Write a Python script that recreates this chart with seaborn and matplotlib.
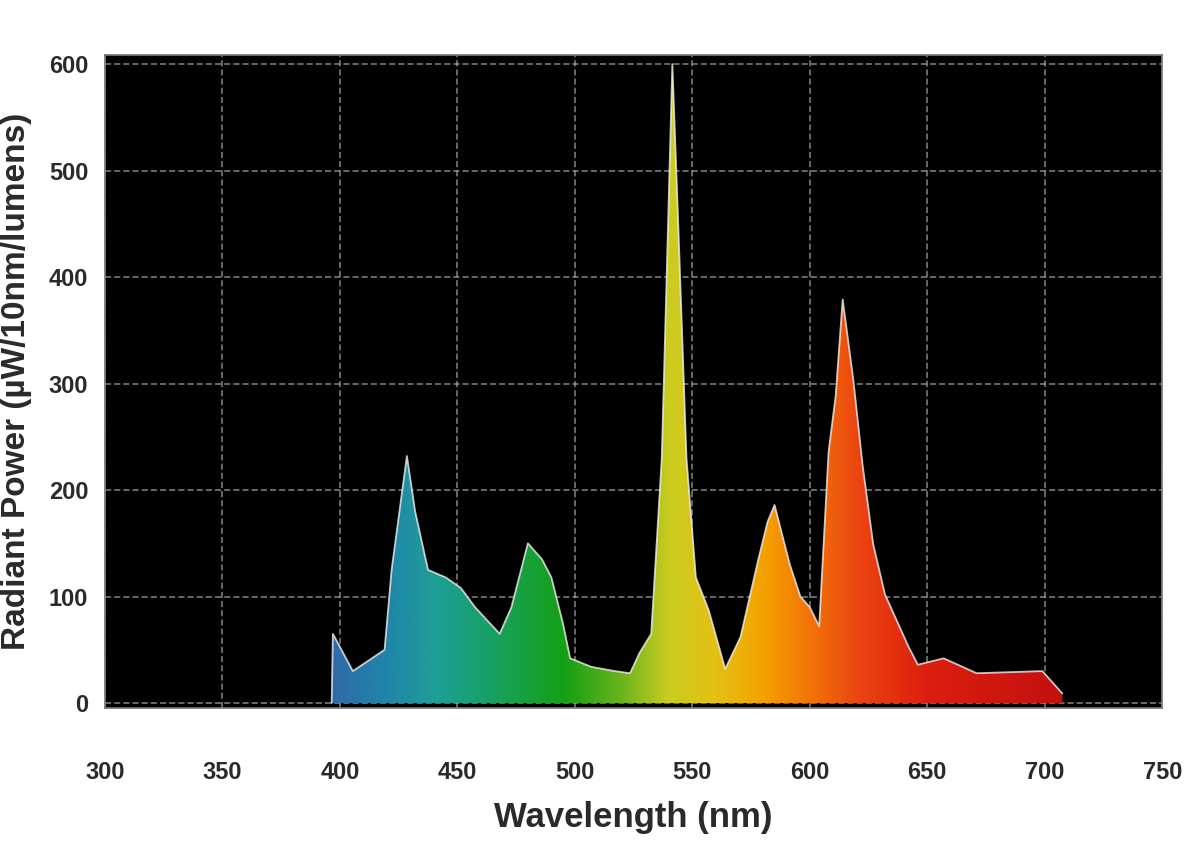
"""
Fluorescent lamp spectral power distribution, drawn as a rainbow-filled
area on a black plot panel.
"""
import numpy as np
import matplotlib
matplotlib.use("Agg")
import matplotlib.pyplot as plt
from matplotlib.colors import LinearSegmentedColormap
import seaborn as sns

# ── Data (nm, µW/10nm/lumens) ────────────────────────────────────────────────
wavelength = [396.5, 397, 405.5, 419, 422, 428.5, 432, 437.5, 445, 451.5,
              457.5, 468, 473, 480, 486, 490, 495, 498, 507, 517,
              523.5, 527.5, 532.5, 537, 541.5, 544, 547.5, 551.5, 557, 564,
              570.5, 578, 582, 585, 591.5, 596, 600, 604, 608, 611,
              614, 618.5, 622.5, 627, 632, 642, 646, 657, 671, 699,
              707.5]
power = [0, 65, 30, 50, 125, 232, 180, 125, 118, 108,
         90, 65, 90, 150, 135, 118, 74, 42, 34, 30,
         28, 47, 65, 230, 600, 450, 230, 118, 87, 32,
         62, 134, 170, 186, 130, 100, 90, 72, 236, 288,
         379, 304, 223, 149, 102, 53, 36, 42, 28, 30,
         9]

x_ticks = [300, 350, 400, 450, 500, 550, 600, 650, 700, 750]
y_ticks = [0, 100, 200, 300, 400, 500, 600]

# colour of the fill along the wavelength axis
spec_nm = [395, 420, 440, 465, 495, 520, 540, 560, 580, 600, 620, 650, 710]
spec_col = ['#3068a8', '#1f86a8', '#1f9e98', '#18a060', '#14a014', '#6cb41c',
            '#cccc20', '#e4c014', '#f4a200', '#f27408', '#ec4612', '#dc1e0e',
            '#c21010']

# ── Style ────────────────────────────────────────────────────────────────────
sns.set_theme(style="dark", rc={
    "axes.facecolor": "black",
    "figure.facecolor": "white",
    "axes.edgecolor": "#777777",
})
plt.rcParams['font.family'] = ['Liberation Sans', 'DejaVu Sans']

fig = plt.figure(figsize=(12, 8.66), dpi=100)
ax = fig.add_axes([0.0875, 0.182, 0.881, 0.755])

# gradient fill clipped to the spectrum shape
lo, hi = spec_nm[0], spec_nm[-1]
cmap = LinearSegmentedColormap.from_list(
    "spec", [((n - lo) / (hi - lo), c) for n, c in zip(spec_nm, spec_col)])
poly = ax.fill_between(wavelength, power, 0, color='none', lw=0)
grad = np.linspace(0, 1, 512).reshape(1, -1)
img = ax.imshow(grad, cmap=cmap, aspect='auto', origin='lower',
                extent=[lo, hi, 0, 610], zorder=2)
img.set_clip_path(poly.get_paths()[0], transform=ax.transData)

# light outline
sns.lineplot(x=wavelength, y=power, color='#f0f0f0', lw=1.3, alpha=0.8,
             sort=False, ax=ax, zorder=3)

ax.set_xlim(300, 750)
ax.set_ylim(-5, 609)
ax.set_xticks(x_ticks)
ax.set_yticks(y_ticks)
ax.grid(True, color='#b0b0b0', ls=(0, (4, 2)), lw=1.1, alpha=0.75)
ax.set_axisbelow(True)

ax.tick_params(axis='x', length=0, pad=38, labelsize=17, labelcolor='#2a2a2a')
ax.tick_params(axis='y', length=0, pad=12, labelsize=17, labelcolor='#2a2a2a')
for lab in ax.get_xticklabels() + ax.get_yticklabels():
    lab.set_fontweight('bold')

ax.set_xlabel('Wavelength (nm)', fontsize=25, weight='bold', color='#2a2a2a',
              labelpad=12)
ax.set_ylabel('Radiant Power (µW/10nm/lumens)', fontsize=24, weight='bold',
              color='#2a2a2a', labelpad=12)

plt.savefig('out.png', dpi=100)
